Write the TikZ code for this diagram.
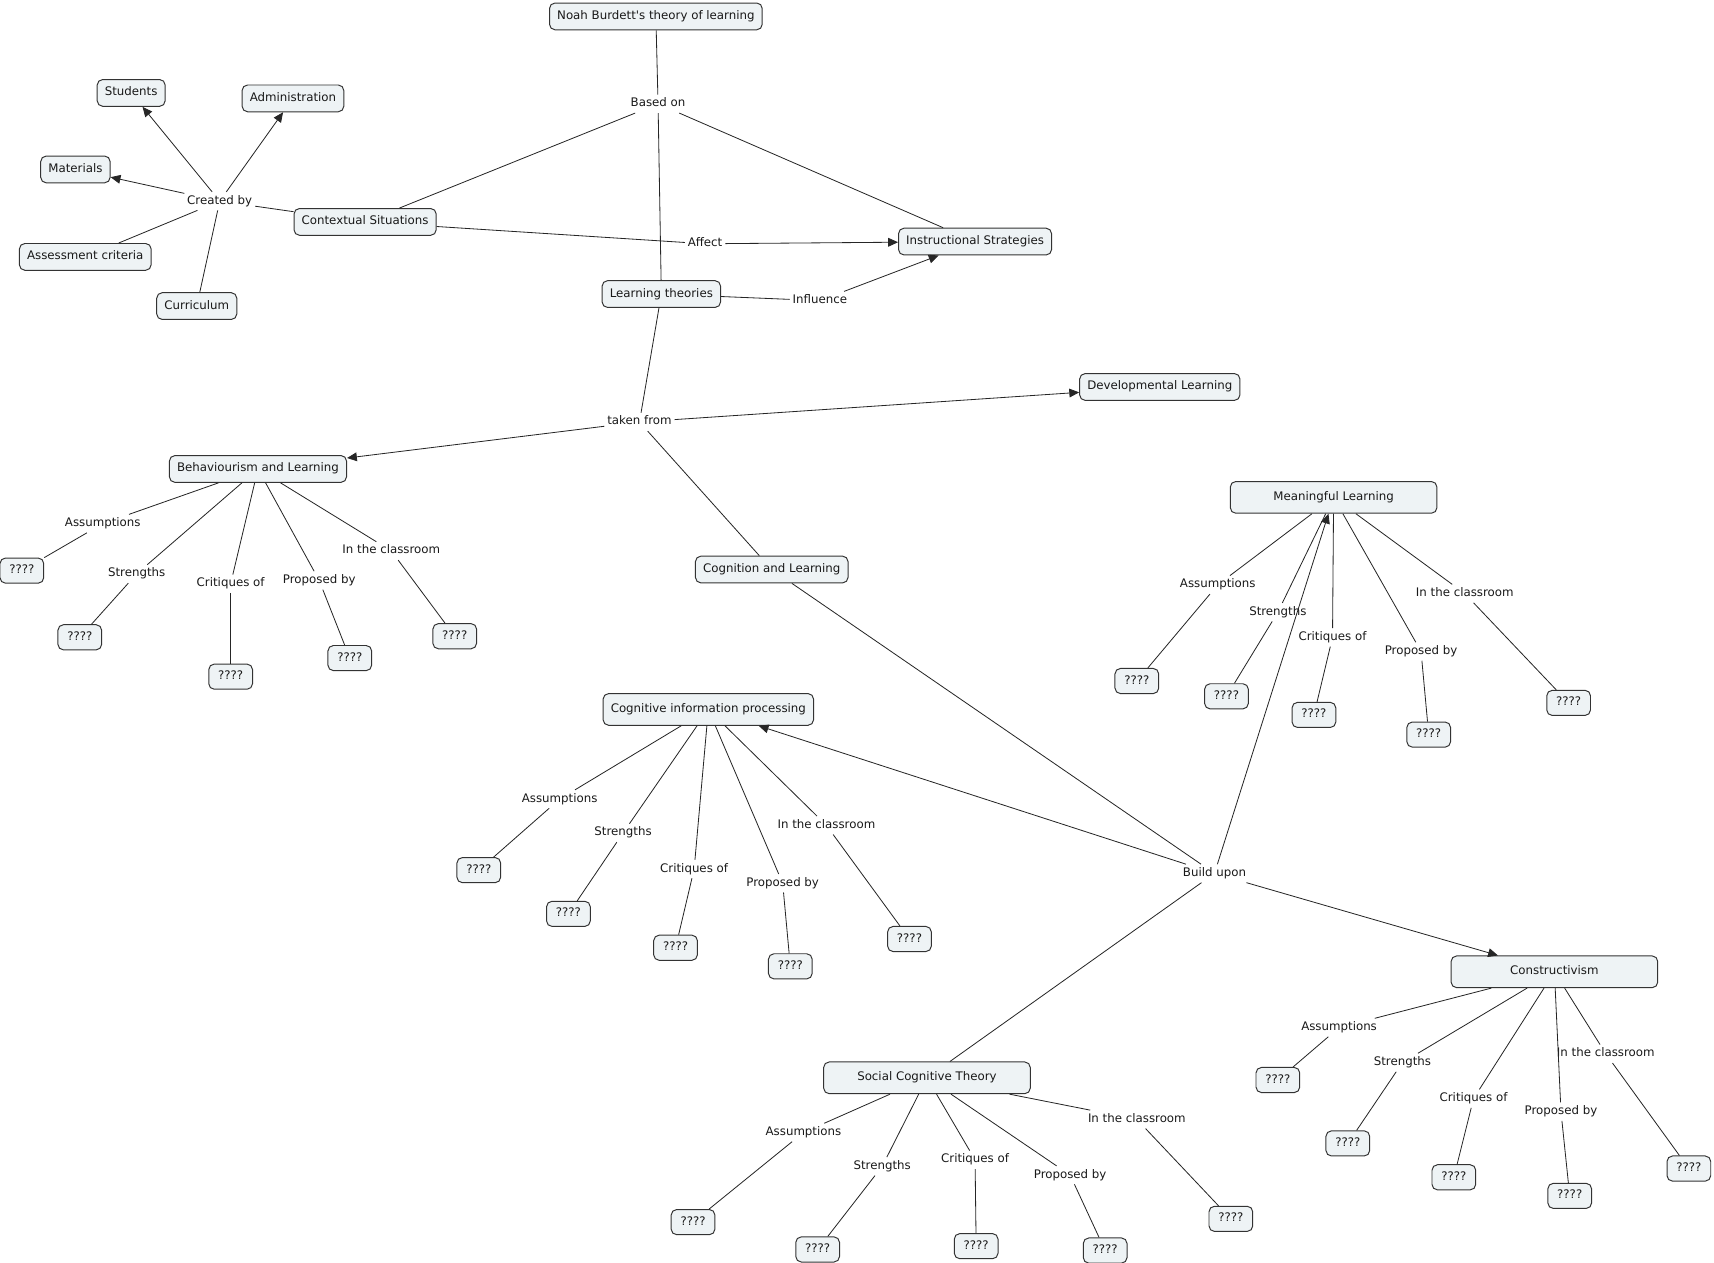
\documentclass[tikz,border=0pt]{standalone}
\usepackage{fontspec}
\setmainfont{DejaVu Sans}
\usetikzlibrary{arrows.meta}
\definecolor{boxfill}{RGB}{238,243,245}
\definecolor{boxline}{RGB}{51,51,51}
\definecolor{txt}{RGB}{25,25,25}
\begin{document}
\begin{tikzpicture}[x=1pt,y=-1pt,
 font=\fontsize{10.8}{13}\selectfont, text=txt,
 concept/.style={draw=boxline, fill=boxfill, line width=0.9pt, rounded corners=5pt, inner xsep=7pt, inner ysep=0pt, minimum height=24.5pt, text height=8pt, text depth=2.5pt},
 wide/.style={concept, minimum width=189pt, minimum height=29pt},
 qbox/.style={concept, minimum width=40pt, minimum height=23pt, inner xsep=2pt},
 lnk/.style={inner xsep=2.5pt, inner ysep=3pt, text height=8pt, text depth=2.5pt},
 con/.style={draw=black!85, line width=0.75pt},
 arr/.style={con, -{Triangle[length=9pt,width=8pt]}}]
\useasboundingbox (0,-2) rectangle (1568,1152.5);

% main concepts
\node[concept] (noah) at (600,13) {Noah Burdett\textquotesingle s theory of learning};
\node[concept] (stu) at (120,83) {Students};
\node[concept] (adm) at (268,88) {Administration};
\node[concept] (mat) at (69,153) {Materials};
\node[concept] (ass) at (78,233) {Assessment criteria};
\node[concept] (cur) at (180,278) {Curriculum};
\node[concept] (ctx) at (334,201) {Contextual Situations};
\node[concept] (lt) at (605,267) {Learning theories};
\node[concept] (ins) at (892,219) {Instructional Strategies};
\node[concept] (dev) at (1061,352) {Developmental Learning};
\node[concept] (b) at (236,427) {Behaviourism and Learning};
\node[concept] (cog) at (706,519) {Cognition and Learning};
\node[wide] (m) at (1220,453) {Meaningful Learning};
\node[wide] (c) at (648,647) {Cognitive information processing};
\node[wide] (k) at (1422,887) {Constructivism};
\node[wide] (s) at (848,984) {Social Cognitive Theory};

% linking phrases
\node[lnk] (based) at (602,93) {Based on};
\node[lnk] (created) at (201,182) {Created by};
\node[lnk] (affect) at (645,221) {Affect};
\node[lnk] (infl) at (750,273) {Influence};
\node[lnk] (taken) at (585,384) {taken from};
\node[lnk] (build) at (1111,797) {Build upon};

\draw[con] (noah) -- (based);
\draw[con] (based) -- (ctx);
\draw[con] (based) -- (lt);
\draw[con] (based) -- (ins);
\draw[con] (ctx) -- (created);
\draw[arr] (created) -- (stu);
\draw[arr] (created) -- (adm);
\draw[arr] (created) -- (mat);
\draw[con] (created) -- (ass);
\draw[con] (created) -- (cur);
\draw[con] (ctx) -- (affect);
\draw[arr] (affect) -- (ins);
\draw[con] (lt) -- (infl);
\draw[arr] (infl) -- (ins);
\draw[con] (lt) -- (taken);
\draw[arr] (taken) -- (dev);
\draw[arr] (taken) -- (b);
\draw[con] (taken) -- (cog);
\draw[con] (cog) -- (build);
\draw[arr] (build) -- (c);
\draw[arr] (build) -- (m);
\draw[arr] (build) -- (k);
\draw[con] (build) -- (s);

% Behaviourism
\node[lnk] (b1) at (94,477) {Assumptions};
\node[lnk] (b2) at (125,523) {Strengths};
\node[lnk] (b3) at (211,532) {Critiques of};
\node[lnk] (b4) at (292,529) {Proposed by};
\node[lnk] (b5) at (358,502) {In the classroom};
\node[qbox] (bq1) at (20,520) {????};
\node[qbox] (bq2) at (73,581) {????};
\node[qbox] (bq3) at (211,617) {????};
\node[qbox] (bq4) at (320,600) {????};
\node[qbox] (bq5) at (416,580) {????};

% Meaningful Learning
\node[lnk] (m1) at (1114,533) {Assumptions};
\node[lnk] (m2) at (1169,558) {Strengths};
\node[lnk] (m3) at (1219,581) {Critiques of};
\node[lnk] (m4) at (1300,594) {Proposed by};
\node[lnk] (m5) at (1340,541) {In the classroom};
\node[qbox] (mq1) at (1040,621) {????};
\node[qbox] (mq2) at (1122,635) {????};
\node[qbox] (mq3) at (1202,652) {????};
\node[qbox] (mq4) at (1307,670) {????};
\node[qbox] (mq5) at (1435,641) {????};

% Cognitive information processing
\node[lnk] (c1) at (512,729) {Assumptions};
\node[lnk] (c2) at (570,760) {Strengths};
\node[lnk] (c3) at (635,793) {Critiques of};
\node[lnk] (c4) at (716,806) {Proposed by};
\node[lnk] (c5) at (756,753) {In the classroom};
\node[qbox] (cq1) at (438,794) {????};
\node[qbox] (cq2) at (520,834) {????};
\node[qbox] (cq3) at (618,865) {????};
\node[qbox] (cq4) at (723,882) {????};
\node[qbox] (cq5) at (832,857) {????};

% Constructivism
\node[lnk] (k1) at (1225,938) {Assumptions};
\node[lnk] (k2) at (1283,970) {Strengths};
\node[lnk] (k3) at (1348,1003) {Critiques of};
\node[lnk] (k4) at (1428,1015) {Proposed by};
\node[lnk] (k5) at (1469,962) {In the classroom};
\node[qbox] (kq1) at (1169,986) {????};
\node[qbox] (kq2) at (1233,1044) {????};
\node[qbox] (kq3) at (1330,1075) {????};
\node[qbox] (kq4) at (1436,1092) {????};
\node[qbox] (kq5) at (1545,1067) {????};

% Social Cognitive Theory
\node[lnk] (s1) at (735,1034) {Assumptions};
\node[lnk] (s2) at (807,1065) {Strengths};
\node[lnk] (s3) at (892,1059) {Critiques of};
\node[lnk] (s4) at (979,1073) {Proposed by};
\node[lnk] (s5) at (1040,1022) {In the classroom};
\node[qbox] (sq1) at (634,1116) {????};
\node[qbox] (sq2) at (748,1141) {????};
\node[qbox] (sq3) at (893,1138) {????};
\node[qbox] (sq4) at (1011,1142) {????};
\node[qbox] (sq5) at (1126,1113) {????};

\foreach \t in {b,m,c,k,s}{
  \foreach \i in {1,...,5}{
    \draw[con] (\t) -- (\t\i);
    \draw[con] (\t\i) -- (\t q\i);
  }
}
\end{tikzpicture}
\end{document}
